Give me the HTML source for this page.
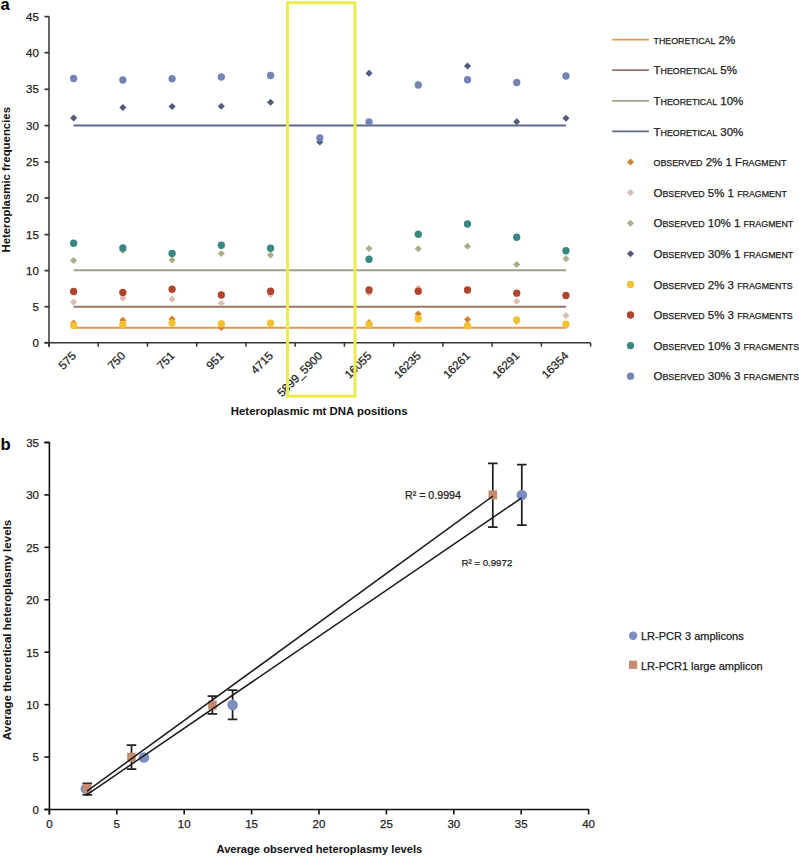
<!DOCTYPE html>
<html><head><meta charset="utf-8"><title>Figure</title>
<style>
html,body{margin:0;padding:0;background:#fff;}
body{width:799px;height:857px;overflow:hidden;}
svg{display:block;font-family:"Liberation Sans", sans-serif;}
</style></head><body>
<svg width="799" height="857" viewBox="0 0 799 857">
<rect width="799" height="857" fill="#fff"/>
<text x="0.6" y="10.2" font-size="16.5" font-weight="bold" fill="#000">a</text>
<line x1="49.0" y1="16.129999999999995" x2="49.0" y2="346.7" stroke="#333" stroke-width="1.5"/>
<line x1="44.5" y1="342.70" x2="49.0" y2="342.70" stroke="#333" stroke-width="1.7"/>
<text x="38.8" y="346.80" font-size="11.5" text-anchor="end" fill="#222" stroke="#222" stroke-width="0.25">0</text>
<line x1="44.5" y1="306.70" x2="49.0" y2="306.70" stroke="#333" stroke-width="1.7"/>
<text x="38.8" y="310.80" font-size="11.5" text-anchor="end" fill="#222" stroke="#222" stroke-width="0.25">5</text>
<line x1="44.5" y1="270.60" x2="49.0" y2="270.60" stroke="#333" stroke-width="1.7"/>
<text x="38.8" y="274.70" font-size="11.5" text-anchor="end" fill="#222" stroke="#222" stroke-width="0.25">10</text>
<line x1="44.5" y1="234.60" x2="49.0" y2="234.60" stroke="#333" stroke-width="1.7"/>
<text x="38.8" y="238.70" font-size="11.5" text-anchor="end" fill="#222" stroke="#222" stroke-width="0.25">15</text>
<line x1="44.5" y1="198.00" x2="49.0" y2="198.00" stroke="#333" stroke-width="1.7"/>
<text x="38.8" y="202.10" font-size="11.5" text-anchor="end" fill="#222" stroke="#222" stroke-width="0.25">20</text>
<line x1="44.5" y1="162.00" x2="49.0" y2="162.00" stroke="#333" stroke-width="1.7"/>
<text x="38.8" y="166.10" font-size="11.5" text-anchor="end" fill="#222" stroke="#222" stroke-width="0.25">25</text>
<line x1="44.5" y1="125.60" x2="49.0" y2="125.60" stroke="#333" stroke-width="1.7"/>
<text x="38.8" y="129.70" font-size="11.5" text-anchor="end" fill="#222" stroke="#222" stroke-width="0.25">30</text>
<line x1="44.5" y1="89.30" x2="49.0" y2="89.30" stroke="#333" stroke-width="1.7"/>
<text x="38.8" y="93.40" font-size="11.5" text-anchor="end" fill="#222" stroke="#222" stroke-width="0.25">35</text>
<line x1="44.5" y1="52.70" x2="49.0" y2="52.70" stroke="#333" stroke-width="1.7"/>
<text x="38.8" y="56.80" font-size="11.5" text-anchor="end" fill="#222" stroke="#222" stroke-width="0.25">40</text>
<line x1="44.5" y1="16.60" x2="49.0" y2="16.60" stroke="#333" stroke-width="1.7"/>
<text x="38.8" y="20.70" font-size="11.5" text-anchor="end" fill="#222" stroke="#222" stroke-width="0.25">45</text>
<line x1="44.5" y1="342.7" x2="590.59" y2="342.7" stroke="#333" stroke-width="1.5"/>
<line x1="49.00" y1="342.7" x2="49.00" y2="346.7" stroke="#333" stroke-width="1.5"/>
<line x1="98.23" y1="342.7" x2="98.23" y2="346.7" stroke="#333" stroke-width="1.5"/>
<line x1="147.47" y1="342.7" x2="147.47" y2="346.7" stroke="#333" stroke-width="1.5"/>
<line x1="196.70" y1="342.7" x2="196.70" y2="346.7" stroke="#333" stroke-width="1.5"/>
<line x1="245.94" y1="342.7" x2="245.94" y2="346.7" stroke="#333" stroke-width="1.5"/>
<line x1="295.18" y1="342.7" x2="295.18" y2="346.7" stroke="#333" stroke-width="1.5"/>
<line x1="344.41" y1="342.7" x2="344.41" y2="346.7" stroke="#333" stroke-width="1.5"/>
<line x1="393.64" y1="342.7" x2="393.64" y2="346.7" stroke="#333" stroke-width="1.5"/>
<line x1="442.88" y1="342.7" x2="442.88" y2="346.7" stroke="#333" stroke-width="1.5"/>
<line x1="492.12" y1="342.7" x2="492.12" y2="346.7" stroke="#333" stroke-width="1.5"/>
<line x1="541.35" y1="342.7" x2="541.35" y2="346.7" stroke="#333" stroke-width="1.5"/>
<line x1="590.59" y1="342.7" x2="590.59" y2="346.7" stroke="#333" stroke-width="1.5"/>
<text x="76.92" y="356.5" font-size="11.6" text-anchor="end" fill="#222" stroke="#222" stroke-width="0.25" transform="rotate(-45 76.92 356.5)">575</text>
<text x="126.15" y="356.5" font-size="11.6" text-anchor="end" fill="#222" stroke="#222" stroke-width="0.25" transform="rotate(-45 126.15 356.5)">750</text>
<text x="175.39" y="356.5" font-size="11.6" text-anchor="end" fill="#222" stroke="#222" stroke-width="0.25" transform="rotate(-45 175.39 356.5)">751</text>
<text x="224.62" y="356.5" font-size="11.6" text-anchor="end" fill="#222" stroke="#222" stroke-width="0.25" transform="rotate(-45 224.62 356.5)">951</text>
<text x="273.86" y="356.5" font-size="11.6" text-anchor="end" fill="#222" stroke="#222" stroke-width="0.25" transform="rotate(-45 273.86 356.5)">4715</text>
<text x="323.09" y="356.5" font-size="11.6" text-anchor="end" fill="#222" stroke="#222" stroke-width="0.25" transform="rotate(-45 323.09 356.5)">5899_5900</text>
<text x="372.33" y="356.5" font-size="11.6" text-anchor="end" fill="#222" stroke="#222" stroke-width="0.25" transform="rotate(-45 372.33 356.5)">16055</text>
<text x="421.56" y="356.5" font-size="11.6" text-anchor="end" fill="#222" stroke="#222" stroke-width="0.25" transform="rotate(-45 421.56 356.5)">16235</text>
<text x="470.80" y="356.5" font-size="11.6" text-anchor="end" fill="#222" stroke="#222" stroke-width="0.25" transform="rotate(-45 470.80 356.5)">16261</text>
<text x="520.03" y="356.5" font-size="11.6" text-anchor="end" fill="#222" stroke="#222" stroke-width="0.25" transform="rotate(-45 520.03 356.5)">16291</text>
<text x="569.27" y="356.5" font-size="11.6" text-anchor="end" fill="#222" stroke="#222" stroke-width="0.25" transform="rotate(-45 569.27 356.5)">16354</text>
<text x="319.2" y="414.6" font-size="11.4" font-weight="bold" text-anchor="middle" fill="#111">Heteroplasmic mt DNA positions</text>
<text x="0" y="0" font-size="11.4" font-weight="bold" text-anchor="middle" fill="#111" transform="translate(9.7 179.8) rotate(-90)">Heteroplasmic frequencies</text>
<line x1="73.62" y1="327.8" x2="565.97" y2="327.8" stroke="#de9a52" stroke-width="1.9"/>
<line x1="73.62" y1="306.7" x2="565.97" y2="306.7" stroke="#987566" stroke-width="1.9"/>
<line x1="73.62" y1="270.3" x2="565.97" y2="270.3" stroke="#9ea286" stroke-width="1.9"/>
<line x1="73.62" y1="125.5" x2="565.97" y2="125.5" stroke="#5f6985" stroke-width="1.9"/>
<path d="M73.62 319.45L77.17 323.00L73.62 326.55L70.07 323.00Z" fill="#d4822e"/>
<path d="M122.85 316.75L126.40 320.30L122.85 323.85L119.30 320.30Z" fill="#d4822e"/>
<path d="M172.09 315.45L175.64 319.00L172.09 322.55L168.54 319.00Z" fill="#d4822e"/>
<path d="M221.32 323.95L224.87 327.50L221.32 331.05L217.77 327.50Z" fill="#d4822e"/>
<path d="M270.56 320.45L274.11 324.00L270.56 327.55L267.01 324.00Z" fill="#d4822e"/>
<path d="M369.03 318.95L372.58 322.50L369.03 326.05L365.48 322.50Z" fill="#d4822e"/>
<path d="M418.26 310.45L421.81 314.00L418.26 317.55L414.71 314.00Z" fill="#d4822e"/>
<path d="M467.50 315.95L471.05 319.50L467.50 323.05L463.95 319.50Z" fill="#d4822e"/>
<path d="M516.73 317.70L520.28 321.25L516.73 324.80L513.18 321.25Z" fill="#d4822e"/>
<path d="M565.97 321.45L569.52 325.00L565.97 328.55L562.42 325.00Z" fill="#d4822e"/>
<path d="M73.62 298.45L77.17 302.00L73.62 305.55L70.07 302.00Z" fill="#dcbdb1"/>
<path d="M122.85 294.45L126.40 298.00L122.85 301.55L119.30 298.00Z" fill="#dcbdb1"/>
<path d="M172.09 295.70L175.64 299.25L172.09 302.80L168.54 299.25Z" fill="#dcbdb1"/>
<path d="M221.32 299.70L224.87 303.25L221.32 306.80L217.77 303.25Z" fill="#dcbdb1"/>
<path d="M270.56 290.95L274.11 294.50L270.56 298.05L267.01 294.50Z" fill="#dcbdb1"/>
<path d="M369.03 289.45L372.58 293.00L369.03 296.55L365.48 293.00Z" fill="#dcbdb1"/>
<path d="M418.26 284.75L421.81 288.30L418.26 291.85L414.71 288.30Z" fill="#dcbdb1"/>
<path d="M467.50 286.45L471.05 290.00L467.50 293.55L463.95 290.00Z" fill="#dcbdb1"/>
<path d="M516.73 297.65L520.28 301.20L516.73 304.75L513.18 301.20Z" fill="#dcbdb1"/>
<path d="M565.97 311.95L569.52 315.50L565.97 319.05L562.42 315.50Z" fill="#dcbdb1"/>
<path d="M73.62 256.95L77.17 260.50L73.62 264.05L70.07 260.50Z" fill="#a9ae88"/>
<path d="M122.85 246.95L126.40 250.50L122.85 254.05L119.30 250.50Z" fill="#a9ae88"/>
<path d="M172.09 256.45L175.64 260.00L172.09 263.55L168.54 260.00Z" fill="#a9ae88"/>
<path d="M221.32 249.95L224.87 253.50L221.32 257.05L217.77 253.50Z" fill="#a9ae88"/>
<path d="M270.56 251.45L274.11 255.00L270.56 258.55L267.01 255.00Z" fill="#a9ae88"/>
<path d="M369.03 244.95L372.58 248.50L369.03 252.05L365.48 248.50Z" fill="#a9ae88"/>
<path d="M418.26 245.20L421.81 248.75L418.26 252.30L414.71 248.75Z" fill="#a9ae88"/>
<path d="M467.50 242.70L471.05 246.25L467.50 249.80L463.95 246.25Z" fill="#a9ae88"/>
<path d="M516.73 260.95L520.28 264.50L516.73 268.05L513.18 264.50Z" fill="#a9ae88"/>
<path d="M565.97 255.20L569.52 258.75L565.97 262.30L562.42 258.75Z" fill="#a9ae88"/>
<path d="M73.62 114.45L77.17 118.00L73.62 121.55L70.07 118.00Z" fill="#4f5b79"/>
<path d="M122.85 103.95L126.40 107.50L122.85 111.05L119.30 107.50Z" fill="#4f5b79"/>
<path d="M172.09 102.95L175.64 106.50L172.09 110.05L168.54 106.50Z" fill="#4f5b79"/>
<path d="M221.32 102.70L224.87 106.25L221.32 109.80L217.77 106.25Z" fill="#4f5b79"/>
<path d="M270.56 98.70L274.11 102.25L270.56 105.80L267.01 102.25Z" fill="#4f5b79"/>
<path d="M319.79 138.45L323.34 142.00L319.79 145.55L316.24 142.00Z" fill="#4f5b79"/>
<path d="M369.03 69.70L372.58 73.25L369.03 76.80L365.48 73.25Z" fill="#4f5b79"/>
<path d="M418.26 81.45L421.81 85.00L418.26 88.55L414.71 85.00Z" fill="#4f5b79"/>
<path d="M467.50 62.45L471.05 66.00L467.50 69.55L463.95 66.00Z" fill="#4f5b79"/>
<path d="M516.73 118.20L520.28 121.75L516.73 125.30L513.18 121.75Z" fill="#4f5b79"/>
<path d="M565.97 114.70L569.52 118.25L565.97 121.80L562.42 118.25Z" fill="#4f5b79"/>
<circle cx="73.62" cy="325.50" r="3.65" fill="#f2c230"/>
<circle cx="122.85" cy="324.50" r="3.65" fill="#f2c230"/>
<circle cx="172.09" cy="323.00" r="3.65" fill="#f2c230"/>
<circle cx="221.32" cy="323.75" r="3.65" fill="#f2c230"/>
<circle cx="270.56" cy="323.25" r="3.65" fill="#f2c230"/>
<circle cx="369.03" cy="324.50" r="3.65" fill="#f2c230"/>
<circle cx="418.26" cy="318.75" r="3.65" fill="#f2c230"/>
<circle cx="467.50" cy="325.75" r="3.65" fill="#f2c230"/>
<circle cx="516.73" cy="320.00" r="3.65" fill="#f2c230"/>
<circle cx="565.97" cy="324.25" r="3.65" fill="#f2c230"/>
<circle cx="73.62" cy="291.50" r="3.65" fill="#b2432c"/>
<circle cx="122.85" cy="292.50" r="3.65" fill="#b2432c"/>
<circle cx="172.09" cy="289.25" r="3.65" fill="#b2432c"/>
<circle cx="221.32" cy="295.00" r="3.65" fill="#b2432c"/>
<circle cx="270.56" cy="291.25" r="3.65" fill="#b2432c"/>
<circle cx="369.03" cy="290.00" r="3.65" fill="#b2432c"/>
<circle cx="418.26" cy="291.25" r="3.65" fill="#b2432c"/>
<circle cx="467.50" cy="290.00" r="3.65" fill="#b2432c"/>
<circle cx="516.73" cy="293.20" r="3.65" fill="#b2432c"/>
<circle cx="565.97" cy="295.50" r="3.65" fill="#b2432c"/>
<circle cx="73.62" cy="243.25" r="3.65" fill="#398782"/>
<circle cx="122.85" cy="248.00" r="3.65" fill="#398782"/>
<circle cx="172.09" cy="253.50" r="3.65" fill="#398782"/>
<circle cx="221.32" cy="245.25" r="3.65" fill="#398782"/>
<circle cx="270.56" cy="248.25" r="3.65" fill="#398782"/>
<circle cx="369.03" cy="259.25" r="3.65" fill="#398782"/>
<circle cx="418.26" cy="234.25" r="3.65" fill="#398782"/>
<circle cx="467.50" cy="224.00" r="3.65" fill="#398782"/>
<circle cx="516.73" cy="237.25" r="3.65" fill="#398782"/>
<circle cx="565.97" cy="250.75" r="3.65" fill="#398782"/>
<circle cx="73.62" cy="78.50" r="3.65" fill="#7484b4"/>
<circle cx="122.85" cy="80.00" r="3.65" fill="#7484b4"/>
<circle cx="172.09" cy="78.75" r="3.65" fill="#7484b4"/>
<circle cx="221.32" cy="77.00" r="3.65" fill="#7484b4"/>
<circle cx="270.56" cy="75.50" r="3.65" fill="#7484b4"/>
<circle cx="319.79" cy="138.00" r="3.65" fill="#7484b4"/>
<circle cx="369.03" cy="122.00" r="3.65" fill="#7484b4"/>
<circle cx="418.26" cy="85.00" r="3.65" fill="#7484b4"/>
<circle cx="467.50" cy="79.75" r="3.65" fill="#7484b4"/>
<circle cx="516.73" cy="82.50" r="3.65" fill="#7484b4"/>
<circle cx="565.97" cy="76.00" r="3.65" fill="#7484b4"/>
<line x1="612.2" y1="39.60" x2="648.9" y2="39.60" stroke="#de9a52" stroke-width="1.7"/>
<text x="653.5" y="43.80" font-size="11.5" fill="#222" stroke="#222" stroke-width="0.25"><tspan font-size="8.86">THEORETICAL</tspan><tspan font-size="11.5"> 2%</tspan></text>
<line x1="612.2" y1="70.20" x2="648.9" y2="70.20" stroke="#987566" stroke-width="1.7"/>
<text x="653.5" y="74.40" font-size="11.5" fill="#222" stroke="#222" stroke-width="0.25"><tspan font-size="11.5">T</tspan><tspan font-size="8.86">HEORETICAL</tspan><tspan font-size="11.5"> 5%</tspan></text>
<line x1="612.2" y1="100.80" x2="648.9" y2="100.80" stroke="#9ea286" stroke-width="1.7"/>
<text x="653.5" y="105.00" font-size="11.5" fill="#222" stroke="#222" stroke-width="0.25"><tspan font-size="11.5">T</tspan><tspan font-size="8.86">HEORETICAL</tspan><tspan font-size="11.5"> 10%</tspan></text>
<line x1="612.2" y1="131.40" x2="648.9" y2="131.40" stroke="#5f6985" stroke-width="1.7"/>
<text x="653.5" y="135.60" font-size="11.5" fill="#222" stroke="#222" stroke-width="0.25"><tspan font-size="11.5">T</tspan><tspan font-size="8.86">HEORETICAL</tspan><tspan font-size="11.5"> 30%</tspan></text>
<path d="M630.50 158.45L634.05 162.00L630.50 165.55L626.95 162.00Z" fill="#d4822e"/>
<text x="653.5" y="166.20" font-size="11.5" fill="#222" stroke="#222" stroke-width="0.25"><tspan font-size="8.86">OBSERVED</tspan><tspan font-size="11.5"> 2% 1 F</tspan><tspan font-size="8.86">RAGMENT</tspan></text>
<path d="M630.50 189.05L634.05 192.60L630.50 196.15L626.95 192.60Z" fill="#dcbdb1"/>
<text x="653.5" y="196.80" font-size="11.5" fill="#222" stroke="#222" stroke-width="0.25"><tspan font-size="11.5">O</tspan><tspan font-size="8.86">BSERVED</tspan><tspan font-size="11.5"> 5% 1 </tspan><tspan font-size="8.86">FRAGMENT</tspan></text>
<path d="M630.50 219.65L634.05 223.20L630.50 226.75L626.95 223.20Z" fill="#a9ae88"/>
<text x="653.5" y="227.40" font-size="11.5" fill="#222" stroke="#222" stroke-width="0.25"><tspan font-size="11.5">O</tspan><tspan font-size="8.86">BSERVED</tspan><tspan font-size="11.5"> 10% 1 </tspan><tspan font-size="8.86">FRAGMENT</tspan></text>
<path d="M630.50 250.25L634.05 253.80L630.50 257.35L626.95 253.80Z" fill="#4f5b79"/>
<text x="653.5" y="258.00" font-size="11.5" fill="#222" stroke="#222" stroke-width="0.25"><tspan font-size="11.5">O</tspan><tspan font-size="8.86">BSERVED</tspan><tspan font-size="11.5"> 30% 1 </tspan><tspan font-size="8.86">FRAGMENT</tspan></text>
<circle cx="630.50" cy="284.40" r="3.65" fill="#f2c230"/>
<text x="653.5" y="288.60" font-size="11.5" fill="#222" stroke="#222" stroke-width="0.25"><tspan font-size="11.5">O</tspan><tspan font-size="8.86">BSERVED</tspan><tspan font-size="11.5"> 2% 3 </tspan><tspan font-size="8.86">FRAGMENTS</tspan></text>
<circle cx="630.50" cy="315.00" r="3.65" fill="#b2432c"/>
<text x="653.5" y="319.20" font-size="11.5" fill="#222" stroke="#222" stroke-width="0.25"><tspan font-size="11.5">O</tspan><tspan font-size="8.86">BSERVED</tspan><tspan font-size="11.5"> 5% 3 </tspan><tspan font-size="8.86">FRAGMENTS</tspan></text>
<circle cx="630.50" cy="345.60" r="3.65" fill="#398782"/>
<text x="653.5" y="349.80" font-size="11.5" fill="#222" stroke="#222" stroke-width="0.25"><tspan font-size="11.5">O</tspan><tspan font-size="8.86">BSERVED</tspan><tspan font-size="11.5"> 10% 3 </tspan><tspan font-size="8.86">FRAGMENTS</tspan></text>
<circle cx="630.50" cy="376.20" r="3.65" fill="#7484b4"/>
<text x="653.5" y="380.40" font-size="11.5" fill="#222" stroke="#222" stroke-width="0.25"><tspan font-size="11.5">O</tspan><tspan font-size="8.86">BSERVED</tspan><tspan font-size="11.5"> 30% 3 </tspan><tspan font-size="8.86">FRAGMENTS</tspan></text>
<rect x="287.5" y="2.8" width="67.5" height="393.4" fill="none" stroke="#ebed48" stroke-width="3"/>
<text x="0.4" y="449.9" font-size="16.5" font-weight="bold" fill="#000">b</text>
<line x1="49.4" y1="441.99" x2="49.4" y2="814.50" stroke="#111" stroke-width="1.6"/>
<line x1="44.4" y1="809.5" x2="589.10" y2="809.5" stroke="#111" stroke-width="1.6"/>
<line x1="44.4" y1="809.50" x2="49.4" y2="809.50" stroke="#111" stroke-width="1.6"/>
<text x="39" y="813.90" font-size="11.5" text-anchor="end" fill="#222" stroke="#222" stroke-width="0.25">0</text>
<line x1="44.4" y1="757.07" x2="49.4" y2="757.07" stroke="#111" stroke-width="1.6"/>
<text x="39" y="761.47" font-size="11.5" text-anchor="end" fill="#222" stroke="#222" stroke-width="0.25">5</text>
<line x1="44.4" y1="704.64" x2="49.4" y2="704.64" stroke="#111" stroke-width="1.6"/>
<text x="39" y="709.04" font-size="11.5" text-anchor="end" fill="#222" stroke="#222" stroke-width="0.25">10</text>
<line x1="44.4" y1="652.21" x2="49.4" y2="652.21" stroke="#111" stroke-width="1.6"/>
<text x="39" y="656.61" font-size="11.5" text-anchor="end" fill="#222" stroke="#222" stroke-width="0.25">15</text>
<line x1="44.4" y1="599.78" x2="49.4" y2="599.78" stroke="#111" stroke-width="1.6"/>
<text x="39" y="604.18" font-size="11.5" text-anchor="end" fill="#222" stroke="#222" stroke-width="0.25">20</text>
<line x1="44.4" y1="547.35" x2="49.4" y2="547.35" stroke="#111" stroke-width="1.6"/>
<text x="39" y="551.75" font-size="11.5" text-anchor="end" fill="#222" stroke="#222" stroke-width="0.25">25</text>
<line x1="44.4" y1="494.92" x2="49.4" y2="494.92" stroke="#111" stroke-width="1.6"/>
<text x="39" y="499.32" font-size="11.5" text-anchor="end" fill="#222" stroke="#222" stroke-width="0.25">30</text>
<line x1="44.4" y1="442.49" x2="49.4" y2="442.49" stroke="#111" stroke-width="1.6"/>
<text x="39" y="446.89" font-size="11.5" text-anchor="end" fill="#222" stroke="#222" stroke-width="0.25">35</text>
<line x1="44.4" y1="442.49" x2="49.4" y2="442.49" stroke="#111" stroke-width="1.6"/>
<line x1="49.40" y1="809.5" x2="49.40" y2="814.5" stroke="#111" stroke-width="1.6"/>
<text x="49.40" y="827.8" font-size="11.5" text-anchor="middle" fill="#222" stroke="#222" stroke-width="0.25">0</text>
<line x1="116.80" y1="809.5" x2="116.80" y2="814.5" stroke="#111" stroke-width="1.6"/>
<text x="116.80" y="827.8" font-size="11.5" text-anchor="middle" fill="#222" stroke="#222" stroke-width="0.25">5</text>
<line x1="184.20" y1="809.5" x2="184.20" y2="814.5" stroke="#111" stroke-width="1.6"/>
<text x="184.20" y="827.8" font-size="11.5" text-anchor="middle" fill="#222" stroke="#222" stroke-width="0.25">10</text>
<line x1="251.60" y1="809.5" x2="251.60" y2="814.5" stroke="#111" stroke-width="1.6"/>
<text x="251.60" y="827.8" font-size="11.5" text-anchor="middle" fill="#222" stroke="#222" stroke-width="0.25">15</text>
<line x1="319.00" y1="809.5" x2="319.00" y2="814.5" stroke="#111" stroke-width="1.6"/>
<text x="319.00" y="827.8" font-size="11.5" text-anchor="middle" fill="#222" stroke="#222" stroke-width="0.25">20</text>
<line x1="386.40" y1="809.5" x2="386.40" y2="814.5" stroke="#111" stroke-width="1.6"/>
<text x="386.40" y="827.8" font-size="11.5" text-anchor="middle" fill="#222" stroke="#222" stroke-width="0.25">25</text>
<line x1="453.80" y1="809.5" x2="453.80" y2="814.5" stroke="#111" stroke-width="1.6"/>
<text x="453.80" y="827.8" font-size="11.5" text-anchor="middle" fill="#222" stroke="#222" stroke-width="0.25">30</text>
<line x1="521.20" y1="809.5" x2="521.20" y2="814.5" stroke="#111" stroke-width="1.6"/>
<text x="521.20" y="827.8" font-size="11.5" text-anchor="middle" fill="#222" stroke="#222" stroke-width="0.25">35</text>
<line x1="588.60" y1="809.5" x2="588.60" y2="814.5" stroke="#111" stroke-width="1.6"/>
<text x="588.60" y="827.8" font-size="11.5" text-anchor="middle" fill="#222" stroke="#222" stroke-width="0.25">40</text>
<text x="319.4" y="852.6" font-size="11.15" font-weight="bold" text-anchor="middle" fill="#111">Average observed heteroplasmy levels</text>
<text x="0" y="0" font-size="11.55" font-weight="bold" text-anchor="middle" fill="#111" transform="translate(11.4 630) rotate(-90)">Average theoretical heteroplasmy levels</text>
<path d="M232.6 690V719.3M227.79999999999998 690H237.4M227.79999999999998 719.3H237.4" stroke="#222" stroke-width="1.75" fill="none"/>
<path d="M521.8 464.5V525M517.0 464.5H526.5999999999999M517.0 525H526.5999999999999" stroke="#222" stroke-width="1.75" fill="none"/>
<circle cx="85.8" cy="788.8" r="5.3" fill="#7c8dc0"/>
<circle cx="144" cy="757.5" r="5.3" fill="#7c8dc0"/>
<circle cx="232.6" cy="705" r="5.3" fill="#7c8dc0"/>
<circle cx="521.8" cy="495" r="5.3" fill="#7c8dc0"/>
<path d="M87.3 783.25V794.8M82.5 783.25H92.1M82.5 794.8H92.1" stroke="#222" stroke-width="1.75" fill="none"/>
<path d="M131.5 745V769M126.7 745H136.3M126.7 769H136.3" stroke="#222" stroke-width="1.75" fill="none"/>
<path d="M212.4 696.2V713.8M207.6 696.2H217.20000000000002M207.6 713.8H217.20000000000002" stroke="#222" stroke-width="1.75" fill="none"/>
<path d="M492.8 463.3V527M488.0 463.3H497.6M488.0 527H497.6" stroke="#222" stroke-width="1.75" fill="none"/>
<rect x="83.00" y="783.90" width="8.6" height="9.0" fill="#c58b71"/>
<rect x="127.20" y="752.70" width="8.6" height="9.0" fill="#c58b71"/>
<rect x="208.10" y="700.50" width="8.6" height="9.0" fill="#c58b71"/>
<rect x="488.50" y="490.40" width="8.6" height="9.0" fill="#c58b71"/>
<line x1="87" y1="791.1" x2="493" y2="496" stroke="#1a1a1a" stroke-width="1.5"/>
<line x1="86" y1="795.3" x2="521.8" y2="497.8" stroke="#1a1a1a" stroke-width="1.5"/>
<text x="405" y="499.3" font-size="10.65" fill="#222" stroke="#222" stroke-width="0.25">R² = 0.9994</text>
<text x="461.4" y="565.8" font-size="9.7" fill="#222" stroke="#222" stroke-width="0.25">R² = 0.9972</text>
<circle cx="633.1" cy="635.7" r="4.2" fill="#7c8dc0"/>
<text x="641" y="640" font-size="11" fill="#222" stroke="#222" stroke-width="0.25">LR-PCR 3 amplicons</text>
<rect x="629" y="660.7" width="8.2" height="8.2" fill="#c58b71"/>
<text x="641" y="669.5" font-size="11" fill="#222" stroke="#222" stroke-width="0.25">LR-PCR1 large amplicon</text>
</svg>
</body></html>
